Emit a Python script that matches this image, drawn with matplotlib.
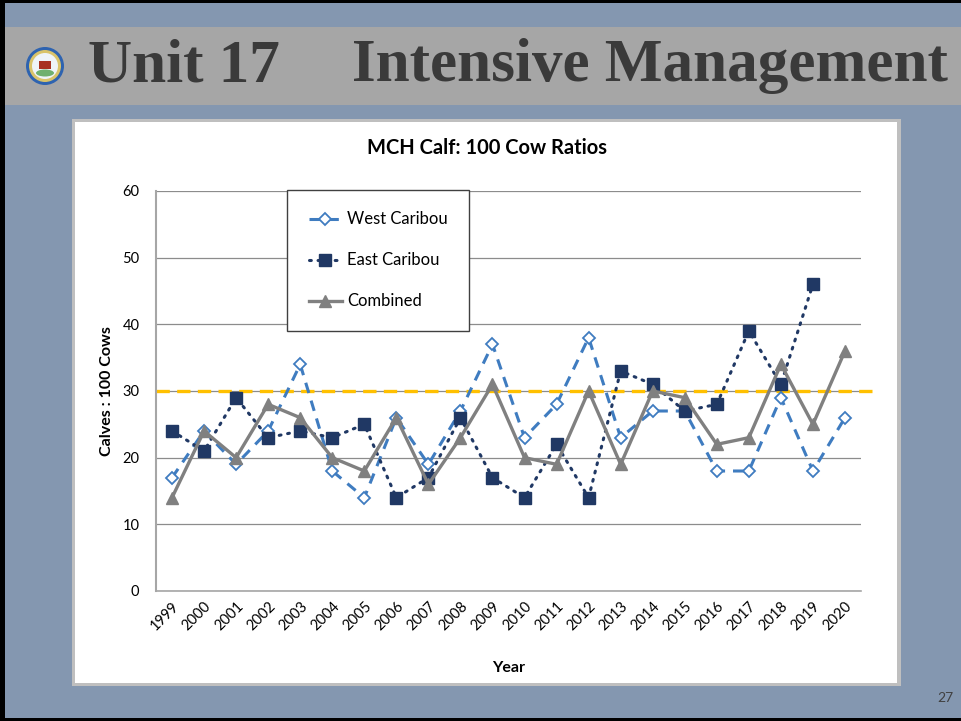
import numpy as np
import matplotlib
matplotlib.use("Agg")
import matplotlib.pyplot as plt
from matplotlib.patches import Rectangle, Ellipse

# data
years = [str(y) for y in range(1999, 2021)]
west = [17, 24, 19, 24, 34, 18, 14, 26, 19, 27, 37, 23, 28, 38, 23, 27, 27, 18, 18, 29, 18, 26]
east = [24, 21, 29, 23, 24, 23, 25, 14, 17, 26, 17, 14, 22, 14, 33, 31, 27, 28, 39, 31, 46, np.nan]
combined = [14, 24, 20, 28, 26, 20, 18, 26, 16, 23, 31, 20, 19, 30, 19, 30, 29, 22, 23, 34, 25, 36]
target = 30
yticks = [0, 10, 20, 30, 40, 50, 60]

W, H = 961, 721
fig = plt.figure(figsize=(W / 100, H / 100), dpi=100)
fig.patch.set_facecolor("#8497B0")

def px(x0, y0, w, h):
    # pixel box (top-left origin) -> figure fraction
    return [x0 / W, 1 - (y0 + h) / H, w / W, h / H]

def box(x0, y0, w, h, col):
    b = px(x0, y0, w, h)
    fig.add_artist(Rectangle(b[:2], b[2], b[3], transform=fig.transFigure,
                             facecolor=col, edgecolor="none", zorder=-10))

# slide decoration
box(0, 27, W, 78, "#A6A6A6")
box(0, 0, 5, H, "black")
box(0, 0, W, 3, "black")
box(0, H - 3, W, 3, "black")

# logo
lx, ly = 45 / W, 1 - 66 / H
for rad, col in [(19, "#2E63B0"), (16, "#D9C36A"), (13, "#EEF3F8")]:
    fig.add_artist(Ellipse((lx, ly), 2 * rad / W, 2 * rad / H, transform=fig.transFigure,
                           facecolor=col, edgecolor="none", zorder=-9))
fig.add_artist(Ellipse((lx, ly - 7 / H), 18 / W, 7 / H, transform=fig.transFigure,
                       facecolor="#6FB06F", edgecolor="none", zorder=-8))
fig.add_artist(Rectangle((lx - 6 / W, ly - 3 / H), 12 / W, 8 / H, transform=fig.transFigure,
                         facecolor="#A83222", edgecolor="none", zorder=-8))

fig.text(88 / W, 1 - 66 / H, "Unit 17", family="Liberation Serif", weight="bold",
         fontsize=44, color="#3A3A3A", va="center", ha="left")
fig.text(948 / W, 1 - 66 / H, "Intensive Management", family="Liberation Serif", weight="bold",
         fontsize=44, color="#3A3A3A", va="center", ha="right")

# white chart panel with grey edge
box(72, 119, 829, 567, "#BFBFBF")
box(75, 122, 822, 561, "white")

fig.text(945 / W, 1 - 698 / H, "27", fontsize=10, color="#404040", ha="center", va="center",
         family="Lato")

plt.rcParams["font.family"] = ["Lato", "DejaVu Sans"]

ax = fig.add_axes(px(156, 191, 705, 400))
ax.set_facecolor("none")
x = np.arange(len(years))

ax.plot(x, west, color="#3F7CC0", lw=2.2, ls=(0, (3.5, 2.6)), marker="D", ms=6,
        mfc="white", mec="#3F7CC0", mew=1.3, label="West Caribou", zorder=3)
ax.plot(x, east, color="#203864", lw=2.2, ls=(0, (0.6, 2.2)), dash_capstyle="round",
        marker="s", ms=9, mfc="#203864", mec="#203864", label="East Caribou", zorder=3)
ax.plot(x, combined, color="#808080", lw=2.4, marker="^", ms=9, mfc="#808080",
        mec="#808080", label="Combined", zorder=3)

ax.axhline(target, xmin=0, xmax=(877 - 156) / 705, color="#FFC000", lw=2.4,
           ls=(0, (4, 2.2)), clip_on=False, zorder=2)

ax.set_xlim(-0.5, len(years) - 0.5)
ax.set_ylim(0, 60)
ax.set_yticks(yticks)
ax.set_xticks(x)
ax.set_xticklabels(years, rotation=45, ha="right", rotation_mode="anchor", fontsize=10.5)
ax.tick_params(axis="y", labelsize=10.5, length=0, pad=12)
ax.tick_params(axis="x", length=0, pad=6)
ax.yaxis.grid(True, color="#8C8C8C", lw=0.9)
ax.set_axisbelow(True)
for s in ["top", "right"]:
    ax.spines[s].set_visible(False)
ax.spines["left"].set_color("#A6A6A6")
ax.spines["left"].set_linewidth(1.5)
ax.spines["bottom"].set_color("#A6A6A6")
ax.spines["bottom"].set_linewidth(1.2)

ax.set_ylabel("Calves : 100 Cows", fontsize=11.5, weight="bold", labelpad=6)
ax.set_xlabel("Year", fontsize=11.5, weight="bold", labelpad=20)
fig.text(487 / W, 1 - 148 / H, "MCH Calf: 100 Cow Ratios", fontsize=14.5, weight="bold",
         ha="center", va="center")

leg = ax.legend(loc="upper left", bbox_to_anchor=((287 - 156) / 705, 1.003), fontsize=12,
                frameon=True, fancybox=False, edgecolor="#404040", framealpha=1,
                handlelength=2.0, labelspacing=1.5, borderpad=1.3, handletextpad=0.3,
                borderaxespad=0)
leg.get_frame().set_linewidth(1.0)

fig.savefig("out.png", dpi=100, facecolor=fig.get_facecolor())
